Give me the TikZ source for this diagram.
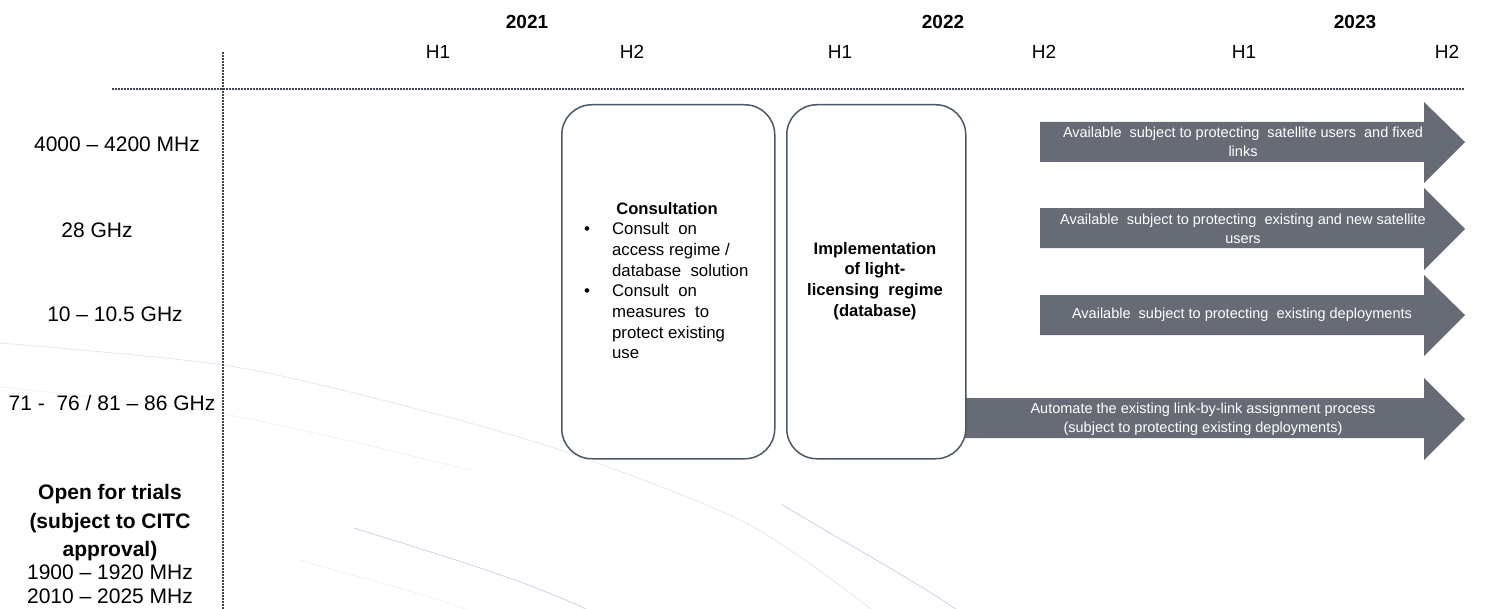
\documentclass[tikz,border=0pt]{standalone}
\usepackage{fontspec}
\setmainfont{Liberation Sans}
\definecolor{boxc}{HTML}{4B5866}
\definecolor{arrc}{HTML}{676B76}
\definecolor{gridc}{HTML}{3E4654}
\definecolor{arcc}{HTML}{CFCFE8}
\definecolor{arcf}{HTML}{E6E6F2}
\begin{document}
\begin{tikzpicture}[x=1bp,y=-1bp,
  lbl/.style={font=\fontsize{21bp}{25bp}\selectfont, inner sep=0pt},
  lblb/.style={font=\fontsize{21bp}{25bp}\selectfont\bfseries, inner sep=0pt},
  hdr/.style={font=\fontsize{19bp}{23bp}\selectfont, inner sep=0pt},
  yr/.style={font=\fontsize{19bp}{23bp}\selectfont\bfseries, inner sep=0pt},
  phase/.style={draw=boxc, line width=1.5bp, rounded corners=30bp, inner sep=0pt},
  arrowfill/.style={fill=arrc, draw=none},
  atext/.style={font=\fontsize{14.5bp}{19bp}\selectfont, text=white, align=center, inner sep=0pt},
  btext/.style={font=\fontsize{16.8bp}{20.7bp}\selectfont, inner sep=0pt},
  bbold/.style={font=\fontsize{16.6bp}{20.7bp}\selectfont\bfseries, inner sep=0pt},
  gridline/.style={draw=gridc, line width=1.6bp, dash pattern=on 1.6bp off 1.4bp},
  bgarc/.style={draw=arcc, line width=0.8bp},
  bgfaint/.style={draw=arcf, line width=0.8bp}]

\useasboundingbox (0,0) rectangle (1496,609);

% faint background arcs
\draw[bgfaint] plot[smooth] coordinates {(0,343) (223,365) (390,402) (560,450) (746,523) (871,609)};
\draw[bgfaint, draw opacity=0.6] plot[smooth] coordinates {(0,387) (200,410) (345,440) (470,470)};
\draw[bgfaint, draw opacity=0.6] (300,560) .. controls (360,578) and (420,592) .. (465,609);
\draw[bgarc] (354,528) .. controls (430,552) and (520,578) .. (586,609);
\draw[bgarc] (781,504) .. controls (840,540) and (900,572) .. (956,609);

% grid lines
\coordinate (vtop) at (223,52);
\coordinate (vbot) at (223,609);
\coordinate (hl) at (112,89);
\coordinate (hr) at (1465,89);
\draw[gridline] (vtop) -- (vbot);
\draw[gridline] (hl) -- (hr);

% header
\node[yr] (y21) at (527,22) {2021};
\node[yr] (y22) at (943,22) {2022};
\node[yr] (y23) at (1355,22) {2023};
\node[hdr] (h1a) at (438,52) {H1};
\node[hdr] (h2a) at (632,52) {H2};
\node[hdr] (h1b) at (840,52) {H1};
\node[hdr] (h2b) at (1044,52) {H2};
\node[hdr] (h1c) at (1244,52) {H1};
\node[hdr] (h2c) at (1447,52) {H2};

% left labels
\node[lbl] (b1) at (117,144) {4000 -- 4200 MHz};
\node[lbl] (b2) at (97,230) {28 GHz};
\node[lbl] (b3) at (115,314) {10 -- 10.5 GHz};
\node[lbl] (b4) at (112,403) {71 -\ \ 76 / 81 -- 86 GHz};
\node[lblb] (t1) at (110,494) {Open for trials};
\node[lblb] (t2) at (110,523) {(subject to CITC};
\node[lblb] (t3) at (110,551) {approval)};
\node[lbl] (t4) at (110,572) {1900 -- 1920 MHz};
\node[lbl] (t5) at (110,596) {2010 -- 2025 MHz};

% arrows
\path[arrowfill] (1040,122) -- (1424,122) -- (1424,102) -- (1465,142) -- (1424,183) -- (1424,162) -- (1040,162) -- cycle;
\path[arrowfill] (1040,208) -- (1424,208) -- (1424,188) -- (1465,229) -- (1424,270) -- (1424,248) -- (1040,248) -- cycle;
\path[arrowfill] (1040,295) -- (1424,295) -- (1424,275) -- (1465,315) -- (1424,356) -- (1424,335) -- (1040,335) -- cycle;
\path[arrowfill] (965,398) -- (1424,398) -- (1424,378) -- (1465,419) -- (1424,460) -- (1424,438) -- (965,438) -- cycle;

\node[atext] (a1) at (1243,142) {Available\ \ subject to protecting\ \ satellite users\ \ and fixed\\links};
\node[atext] (a2) at (1243,229) {Available\ \ subject to protecting\ \ existing and new satellite\\users};
\node[atext] (a3) at (1242,315) {Available\ \ subject to protecting\ \ existing deployments};
\node[atext] (a4) at (1203,419) {Automate the existing link-by-link assignment process\\(subject to protecting existing deployments)};

% phase boxes
\node[phase, minimum width=213bp, minimum height=354bp, anchor=north west] (cons) at (561,104) {};
\node[phase, minimum width=179bp, minimum height=354bp, anchor=north west] (impl) at (786,104) {};

\node[bbold] (ctitle) at (667,209) {Consultation};
\node[btext, anchor=north west] (clist) at (584,220) {%
\begin{tabular}{@{}l@{\hspace{22bp}}l@{}}
\textbullet & Consult\ \ on\\
 & access regime /\\
 & database\ \ solution\\
\textbullet & Consult\ \ on\\
 & measures\ \ to\\
 & protect existing\\
 & use
\end{tabular}};

\node[bbold, align=center] (itext) at (875,281) {Implementation\\of light-\\licensing\ \ regime\\(database)};

\end{tikzpicture}
\end{document}
